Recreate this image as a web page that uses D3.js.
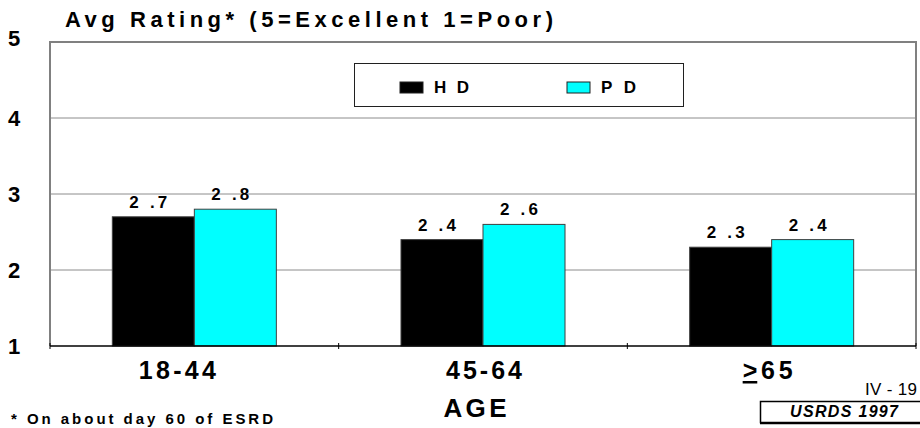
<!DOCTYPE html>
<html>
<head>
<meta charset="utf-8">
<script src="https://cdn.jsdelivr.net/npm/d3@7"></script>
<style>
  html, body { margin: 0; padding: 0; background: #fff; }
  svg { display: block; font-family: Arial, "Liberation Sans", sans-serif; }
</style>
</head>
<body>
<svg id="chart" width="920" height="428"></svg>
<script>
// Average rating by age group, HD vs PD
const categories = ["18-44", "45-64", ">65"];
const seriesNames = ["H D", "P D"];
const hdValues = [2.7, 2.4, 2.3];
const pdValues = [2.8, 2.6, 2.4];
const valueLabels = [["2 .7", "2 .8"], ["2 .4", "2 .6"], ["2 .3", "2 .4"]];
const yTicks = [1, 2, 3, 4, 5];
const seriesColors = ["#000000", "#00FFFF"];

const svg = d3.select("#chart");
const plot = { left: 50, right: 916, top: 42, bottom: 346 };

const x = d3.scaleBand().domain(categories).range([plot.left, plot.right]);
const xInner = d3.scaleBand().domain(seriesNames)
  .range([0, x.bandwidth()]).paddingOuter(0.76);
const y = d3.scaleLinear().domain([1, 5]).range([plot.bottom, plot.top]);

// horizontal gridlines
svg.append("g").selectAll("line")
  .data(yTicks.filter(t => t > 1 && t < 5))
  .join("line")
  .attr("x1", plot.left).attr("x2", plot.right)
  .attr("y1", d => y(d)).attr("y2", d => y(d))
  .attr("stroke", "#8c8c8c").attr("stroke-width", 1);

// plot frame: left, top and right edges
svg.append("path")
  .attr("d", `M${plot.left},${plot.bottom}V${plot.top}H${plot.right}V${plot.bottom}`)
  .attr("fill", "none").attr("stroke", "#808080").attr("stroke-width", 2);

// y tick labels
svg.append("g").selectAll("text")
  .data(yTicks).join("text")
  .attr("x", 8).attr("y", d => y(d) - (d === 5 ? 4 : 0))
  .attr("dy", "0.36em")
  .attr("font-size", 22).attr("font-weight", "bold")
  .text(d => d);

// bars
const rows = categories.map((c, i) => ({ cat: c, vals: [hdValues[i], pdValues[i]], labels: valueLabels[i] }));
const groups = svg.append("g").selectAll("g")
  .data(rows).join("g")
  .attr("transform", d => `translate(${x(d.cat)},0)`);

groups.selectAll("rect")
  .data(d => d.vals.map((v, j) => ({ v, s: seriesNames[j], j })))
  .join("rect")
  .attr("x", d => xInner(d.s))
  .attr("y", d => y(d.v))
  .attr("width", xInner.bandwidth())
  .attr("height", d => y(1) - y(d.v))
  .attr("fill", d => seriesColors[d.j])
  .attr("stroke", "#404040").attr("stroke-width", 1);

groups.selectAll("text")
  .data(d => d.vals.map((v, j) => ({ v, s: seriesNames[j], lbl: d.labels[j] })))
  .join("text")
  .attr("x", d => xInner(d.s) + xInner.bandwidth() / 2 - 5)
  .attr("y", d => y(d.v) - 9)
  .attr("text-anchor", "middle")
  .attr("font-size", 17).attr("font-weight", "bold")
  .attr("textLength", 38).attr("lengthAdjust", "spacing")
  .text(d => d.lbl);

// x axis baseline and tick marks
svg.append("line")
  .attr("x1", plot.left).attr("x2", plot.right)
  .attr("y1", plot.bottom).attr("y2", plot.bottom)
  .attr("stroke", "#000").attr("stroke-width", 1.5);
const boundaries = categories.map(c => x(c)).concat([x.range()[1]]);
svg.append("g").selectAll("line")
  .data(boundaries).join("line")
  .attr("x1", d => d).attr("x2", d => d)
  .attr("y1", plot.bottom - 3).attr("y2", plot.bottom + 3)
  .attr("stroke", "#000").attr("stroke-width", 1);

// category labels
const catNudge = [-17, 1, -4];
const catWidths = [77, 76, 50];
const catLabels = svg.append("g").selectAll("text")
  .data(categories).join("text")
  .attr("x", (d, i) => x(d) + x.bandwidth() / 2 + catNudge[i])
  .attr("y", 379)
  .attr("text-anchor", "middle")
  .attr("font-size", 25).attr("font-weight", "bold")
  .attr("textLength", (d, i) => catWidths[i]).attr("lengthAdjust", "spacing");
catLabels.each(function (d) {
  const t = d3.select(this);
  if (d.startsWith(">")) {
    t.append("tspan").attr("text-decoration", "underline").text(">");
    t.append("tspan").text(d.slice(1));
  } else {
    t.text(d);
  }
});

// axis title
svg.append("text")
  .attr("x", x("45-64") + x.bandwidth() / 2 - 8).attr("y", 417)
  .attr("text-anchor", "middle")
  .attr("font-size", 26).attr("font-weight", "bold")
  .attr("textLength", 63).attr("lengthAdjust", "spacing")
  .text("AGE");

// chart title
svg.append("text")
  .attr("x", 65).attr("y", 27)
  .attr("font-size", 22).attr("font-weight", "bold")
  .attr("textLength", 488).attr("lengthAdjust", "spacing")
  .text("Avg Rating* (5=Excellent 1=Poor)");

// legend
const legend = svg.append("g");
legend.append("rect")
  .attr("x", 354.5).attr("y", 63.5).attr("width", 329).attr("height", 43)
  .attr("fill", "#fff").attr("stroke", "#202020").attr("stroke-width", 1);
const legendX = [400, 567];
const legendItems = legend.selectAll("g")
  .data(seriesNames).join("g")
  .attr("transform", (d, i) => `translate(${legendX[i]},82)`);
legendItems.append("rect")
  .attr("width", 23).attr("height", 11)
  .attr("fill", (d, i) => seriesColors[i])
  .attr("stroke", "#202020").attr("stroke-width", 1);
legendItems.append("text")
  .attr("x", 34).attr("y", 11)
  .attr("font-size", 17).attr("font-weight", "bold")
  .attr("textLength", 35).attr("lengthAdjust", "spacing")
  .text(d => d);

// footnote
svg.append("text")
  .attr("x", 11).attr("y", 424)
  .attr("font-size", 15).attr("font-weight", "bold")
  .attr("textLength", 262).attr("lengthAdjust", "spacing")
  .text("* On about day 60 of ESRD");

// page number
svg.append("text")
  .attr("x", 917).attr("y", 395)
  .attr("text-anchor", "end")
  .attr("font-size", 17)
  .attr("textLength", 52).attr("lengthAdjust", "spacing")
  .text("IV - 19");

// source box
svg.append("rect")
  .attr("x", 760.5).attr("y", 401.5).attr("width", 170).attr("height", 21)
  .attr("fill", "#fff").attr("stroke", "#000").attr("stroke-width", 1.5);
svg.append("line")
  .attr("x1", 760).attr("x2", 920).attr("y1", 423.5).attr("y2", 423.5)
  .attr("stroke", "#000").attr("stroke-width", 1.5);
svg.append("text")
  .attr("x", 790).attr("y", 417)
  .attr("font-size", 16).attr("font-weight", "bold").attr("font-style", "italic")
  .attr("textLength", 108).attr("lengthAdjust", "spacing")
  .text("USRDS 1997");
</script>
</body>
</html>
